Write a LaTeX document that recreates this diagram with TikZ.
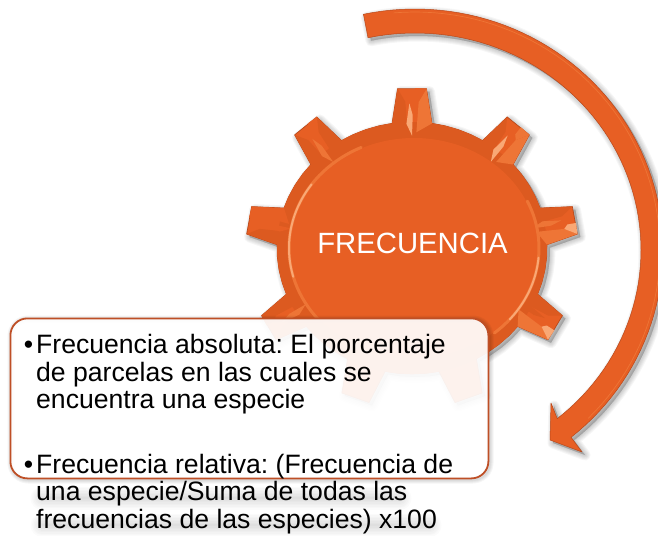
\documentclass[tikz,border=0pt]{standalone}
\usepackage{fontspec}
\setmainfont{Liberation Sans}
\definecolor{org}{HTML}{E75F24}
\definecolor{band}{HTML}{DC5A20}
\definecolor{edge}{HTML}{B8481A}
\definecolor{lite}{HTML}{EE7536}
\definecolor{pale}{HTML}{F9A875}
\definecolor{boxedge}{HTML}{BE4F26}
\newcommand\tp[2]{({\a+(#1)}:{135+31*(#2)} and {126+34*(#2)})}
\newcommand\gearpath{
  (-98.5:135 and 126)
  \foreach \a in {-90,-50,-10,30,70,110,150,190,230}{
    -- \tp{-8.5}{0} -- \tp{-5}{1} -- \tp{5}{1} -- \tp{8.5}{0}
    -- \tp{14}{0} -- \tp{20}{0} -- \tp{26}{0} -- \tp{31.5}{0}
  } -- cycle}
\newcommand\arrowpath{
  plot[domain=102:-51,samples=70] ({415+248*cos(\x)},{250-241*sin(\x)})
  -- (582,452) -- (550,440) -- (551,403)
  -- plot[domain=-51:102,samples=70] ({415+226*cos(\x)},{250-217*sin(\x)}) -- cycle}
\tikzset{
  softshade/.style={draw=black,fill=black,opacity=.035,line join=round,shift={(3,3)}},
  gearfill/.style={fill=org,draw=edge,line width=.7pt,line join=round},
  bodytext/.style={anchor=north west,inner sep=0pt,align=left,text=black,font=\fontsize{26.6}{27.5}\selectfont},
  halo/.style={line cap=round,black,opacity=.016}
}
\begin{document}
\frenchspacing
\begin{tikzpicture}[x=1pt,y=-1pt]
\useasboundingbox (0,0) rectangle (658,535);
\clip (0,0) rectangle (658,535);
\fill[white] (0,0) rectangle (658,535);
% arrow
\foreach \w in {1,3,5,7,9,11}{\draw[softshade,line width=\w pt] \arrowpath;}
\fill[org,draw=edge,line width=.5pt,line join=round] \arrowpath;
\draw[lite,line width=.7pt] plot[domain=95:-45,samples=60] ({415+245*cos(\x)},{250-238*sin(\x)});
% gear
\begin{scope}[shift={(412,248)}]
\foreach \w in {1,3,5,7,9,11}{\draw[softshade,line width=\w pt] \gearpath;}
\draw[gearfill] \gearpath;
% bevel band and disc
\fill[band] (0,0) ellipse [x radius=135,y radius=126];
\foreach \a/\fa/\sp/\ti in {-90/lite/pale/org,-50/lite/pale/lite,-10/lite/lite/pale,30/lite/band/pale,150/band/lite/band,190/org/org/org,230/band/lite/org}{
  \fill[\fa] \tp{5}{1} -- \tp{8.5}{0} -- \tp{2}{-.3} -- \tp{2.5}{.6} -- cycle;
  \fill[\ti] \tp{5}{1} -- \tp{2.5}{.6} -- \tp{1}{.72} -- \tp{1}{1} -- cycle;
  \fill[band] \tp{-5}{1} -- \tp{-8.5}{0} -- \tp{-2}{-.3} -- \tp{-2.5}{.6} -- cycle;
  \fill[\sp] \tp{-1}{.55} -- \tp{-2.4}{-.05} -- \tp{0}{-.4} -- \tp{.3}{.2} -- cycle;
}
\fill[org] (2,0) ellipse [x radius=124,y radius=110];
\draw[lite,line width=3pt,line cap=round] plot[domain=140:245,samples=40] ({2+125*cos(\x)},{111*sin(\x)});
\draw[pale,line width=2pt,line cap=round] plot[domain=165:215,samples=30] ({2+125*cos(\x)},{111*sin(\x)});
\draw[lite,line width=3pt,line cap=round] plot[domain=-25:50,samples=30] ({2+125*cos(\x)},{111*sin(\x)});
\draw[pale,line width=2pt,line cap=round] plot[domain=5:40,samples=30] ({2+125*cos(\x)},{111*sin(\x)});
\node (freq) at (0.5,-5) [text=white,inner sep=0pt,font=\fontsize{29.3}{30}\selectfont] {FRECUENCIA};
\end{scope}
% text box
\foreach \w in {1,3,5,7}{\draw[black,opacity=.04,line width=\w pt,rounded corners=17pt] (11,319) rectangle (490,480);}
\node (box) [draw=boxedge,fill=white,fill opacity=.92,line width=1.8pt,rounded corners=17pt,minimum width=478pt,minimum height=160pt,inner sep=0pt,anchor=north west] at (9.5,317.5) {};
% soft shadow of the lower lines
\foreach \w in {2,5,8,11,14,17,20,23}{
  \draw[halo,line width=\w pt] (42,498) -- (400,498);
  \draw[halo,line width=\w pt] (42,525) -- (430,525);
}
\node (absoluta) [bodytext] at (36,334.5) {\llap{•\hspace{3pt}}Frecuencia absoluta: El porcentaje\\de parcelas en las cuales se\\encuentra una especie};
\node (relativa) [bodytext] at (36,454) {\llap{•\hspace{3pt}}Frecuencia relativa: (Frecuencia de\\una especie/Suma de todas las\\frecuencias de las especies) x100};
\end{tikzpicture}
\end{document}
